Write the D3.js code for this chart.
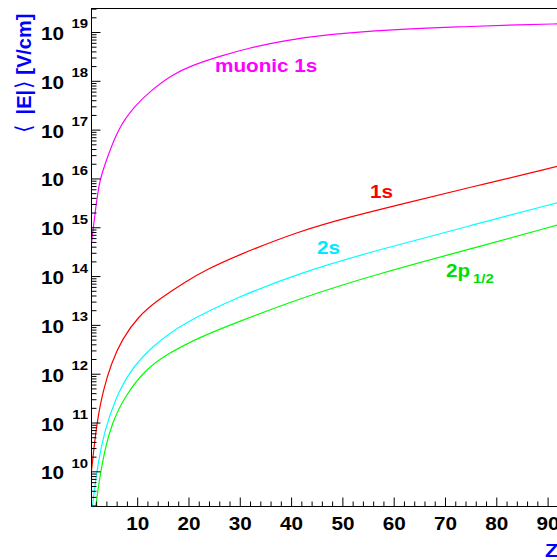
<!DOCTYPE html>
<html>
<head>
<meta charset="utf-8">
<script src="https://cdn.jsdelivr.net/npm/d3@7"></script>
<style>
  body { margin: 0; background: #fff; }
  svg { display: block; }
  text { font-family: "Liberation Sans", Arial, Helvetica, sans-serif; font-weight: bold; }
</style>
</head>
<body>
<svg id="chart" width="557" height="560"></svg>
<script>
// Mean electric field <|E|> [V/cm] versus nuclear charge Z
const zMuonic1s = [1, 2, 2.65, 4, 6.2, 9.5, 12.7, 16.6, 20.5, 25.7, 31.9, 38.4, 46.8, 59.8, 72.2, 85.2, 92];
const eMuonic1s = [4.9e14, 3.7e15, 1.0e16, 2.6e16, 1.1e17, 3.2e17, 6.6e17, 1.35e18, 2.1e18, 3.2e18, 4.9e18, 6.8e18, 9.1e18, 1.15e19, 1.3e19, 1.45e19, 1.5e19];

const z1s = [1, 2, 3.3, 4.9, 6.9, 10.1, 14, 19.2, 23.8, 29, 41.6, 51.4, 61.1, 74.1, 92];
const e1s = [1.05e10, 1.0e11, 4.9e11, 1.7e12, 5.1e12, 1.53e13, 3.34e13, 7.8e13, 1.45e14, 2.6e14, 8.65e14, 1.67e15, 3.0e15, 6.45e15, 1.83e16];

const z2s = [1, 2, 3.6, 5.6, 8.2, 12.7, 19.2, 29, 41.6, 57.2, 74.1, 92];
const e2s = [1.3e9, 1.1e10, 7.4e10, 3.0e11, 1.07e12, 3.7e12, 1.16e13, 3.6e13, 1.2e14, 3.6e14, 1.05e15, 3.3e15];

const z2p = [1.8, 3.0, 4.9, 7.5, 11.4, 16, 22.5, 29, 41.6, 57.2, 74.1, 92];
const e2p = [1.9e9, 1.55e10, 1.0e11, 3.5e11, 1.23e12, 2.7e12, 6.0e12, 1.12e13, 3.6e13, 1.17e14, 3.5e14, 1.15e15];

const xMajorTicks = [10, 20, 30, 40, 50, 60, 70, 80, 90, 100];
const xMinorTicks = d3.range(2, 101, 2).filter(v => v % 10 !== 0);
const yExponents = [10, 11, 12, 13, 14, 15, 16, 17, 18, 19];
const yMinorMantissas = [2, 3, 4, 5, 6, 7, 8, 9];

const series = [
  { name: "muonic 1s", z: zMuonic1s, e: eMuonic1s, color: "#ff00ff" },
  { name: "1s", z: z1s, e: e1s, color: "#ff0000" },
  { name: "2s", z: z2s, e: e2s, color: "#00ffff" },
  { name: "2p", z: z2p, e: e2p, color: "#00ff00" }
];

const svg = d3.select("#chart");
const frame = { left: 91.5, right: 599.4, top: 8.5, bottom: 506.5 };
const stretch = 1.15; // horizontal widening of the Helvetica-style labels

const x = d3.scaleLinear().domain([1, 100]).range([frame.left, frame.right]);
const y = d3.scaleLog().domain([1.95e9, 3.1e19]).range([frame.bottom, frame.top]);

// plot frame
svg.append("rect")
  .attr("x", frame.left).attr("y", frame.top)
  .attr("width", frame.right - frame.left).attr("height", frame.bottom - frame.top)
  .attr("fill", "none").attr("stroke", "#000").attr("stroke-width", 1);

// curves, clipped to the frame
svg.append("clipPath").attr("id", "plotClip")
  .append("rect")
  .attr("x", frame.left).attr("y", frame.top)
  .attr("width", frame.right - frame.left).attr("height", frame.bottom - frame.top);

const line = d3.line()
  .x(d => x(d[0]))
  .y(d => y(d[1]))
  .curve(d3.curveBasis);

const curves = svg.append("g").attr("clip-path", "url(#plotClip)");
series.forEach(s => {
  curves.append("path")
    .datum(d3.zip(s.z, s.e))
    .attr("d", line)
    .attr("fill", "none")
    .attr("stroke", s.color)
    .attr("stroke-width", 1.2);
});

// x axis ticks (drawn inward)
const xAxisG = svg.append("g").attr("stroke", "#000").attr("stroke-width", 1);
xMajorTicks.forEach(v => {
  xAxisG.append("line").attr("x1", x(v)).attr("x2", x(v))
    .attr("y1", frame.bottom).attr("y2", frame.bottom - 9);
});
xMinorTicks.forEach(v => {
  xAxisG.append("line").attr("x1", x(v)).attr("x2", x(v))
    .attr("y1", frame.bottom).attr("y2", frame.bottom - 5);
});
xMajorTicks.forEach(v => {
  svg.append("text")
    .attr("transform", `translate(${x(v)},529.5) scale(${stretch},1)`)
    .attr("text-anchor", "middle")
    .style("font-size", "18px")
    .attr("fill", "#000")
    .text(v);
});

// y axis ticks (log, drawn inward)
const yAxisG = svg.append("g").attr("stroke", "#000").attr("stroke-width", 1);
const decades = d3.range(9, 20);
decades.forEach(p => {
  const base = Math.pow(10, p);
  if (base >= y.domain()[0]) {
    yAxisG.append("line").attr("x1", frame.left).attr("x2", frame.left + 9)
      .attr("y1", y(base)).attr("y2", y(base));
  }
  yMinorMantissas.forEach(m => {
    const v = m * base;
    if (v >= y.domain()[0] && v <= y.domain()[1]) {
      yAxisG.append("line").attr("x1", frame.left).attr("x2", frame.left + 5)
        .attr("y1", y(v)).attr("y2", y(v));
    }
  });
});
yExponents.forEach(p => {
  const yy = y(Math.pow(10, p));
  svg.append("text")
    .attr("transform", `translate(64,${yy + 7.5}) scale(${stretch},1)`)
    .attr("text-anchor", "end")
    .style("font-size", "18px")
    .attr("fill", "#000")
    .text("10");
  svg.append("text")
    .attr("transform", `translate(88,${yy - 4}) scale(${stretch},1)`)
    .attr("text-anchor", "end")
    .style("font-size", "13px")
    .attr("fill", "#000")
    .text(p);
});

// axis titles
const yTitle = svg.append("text")
  .attr("transform", "translate(31,133) rotate(-90)")
  .attr("text-anchor", "start")
  .attr("fill", "#0000ff")
  .style("font-size", "20px");
yTitle.append("tspan").style("font-weight", "normal").style("font-family", "DejaVu Sans").style("font-size", "22px").text("\u27E8");
yTitle.append("tspan").attr("dx", 10).text("|E|");
yTitle.append("tspan").attr("dx", 1).style("font-weight", "normal").style("font-family", "DejaVu Sans").style("font-size", "22px").text("\u27E9");
yTitle.append("tspan").text(" [V/cm]");

svg.append("text")
  .attr("transform", `translate(545,557) scale(${stretch},1)`)
  .attr("fill", "#0000ff")
  .style("font-size", "19px")
  .text("Z");

// curve labels
svg.append("text")
  .attr("transform", `translate(215,72) scale(${stretch},1)`)
  .attr("fill", "#ff00ff").style("font-size", "18px")
  .text("muonic 1s");
svg.append("text")
  .attr("transform", `translate(370,198) scale(${stretch},1)`)
  .attr("fill", "#ff0000").style("font-size", "18px")
  .text("1s");
svg.append("text")
  .attr("transform", `translate(317,254) scale(${stretch},1)`)
  .attr("fill", "#00e8ff").style("font-size", "18px")
  .text("2s");
svg.append("text")
  .attr("transform", `translate(446,277) scale(${stretch},1)`)
  .attr("fill", "#00e000").style("font-size", "18px")
  .text("2p");
svg.append("text")
  .attr("transform", `translate(473,283) scale(${stretch},1)`)
  .attr("fill", "#00e000").style("font-size", "13px")
  .text("1/2");
</script>
</body>
</html>
